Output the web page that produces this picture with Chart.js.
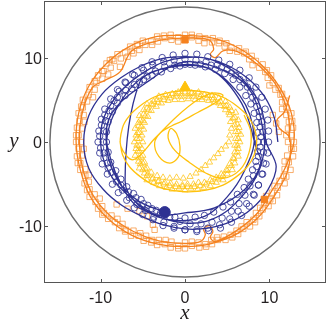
<!DOCTYPE html>
<html>
<head>
<meta charset="utf-8">
<script src="https://cdn.jsdelivr.net/npm/chart.js@4.4.0/dist/chart.umd.min.js"></script>
<style>
  html, body { margin: 0; padding: 0; background: #fff; }
  canvas { display: block; }
</style>
</head>
<body>
<canvas id="orbitChart" width="327" height="322"></canvas>
<script>
// axis range + ticks
const axisMin = -16.7;
const axisMax = 16.7;
const tickValues = [-10, 0, 10];
const boundaryRadius = 16;

// blue circles (passes round the ring)
const blueCirclesA = [[9.9,0],[9.9,1.3],[9.8,2.6],[9.5,3.9],[9.1,5.3],[8.4,6.5],[7.6,7.6],[6.5,8.5],[5.3,9.2],[4.0,9.7],[2.7,10.1],[1.4,10.4],[0,10.5],[-1.4,10.3],[-2.7,10.0],[-3.9,9.5],[-5.1,8.8],[-6.2,8.0],[-7.1,7.1],[-8.0,6.2],[-8.8,5.1],[-9.5,3.9],[-9.9,2.7],[-10.2,1.3],[-10.3,0],[-10.1,-1.3],[-9.8,-2.6],[-9.2,-3.8],[-8.6,-5.0],[-7.9,-6.0],[-6.9,-6.9],[-6.0,-7.8],[-5.0,-8.6],[-3.8,-9.2],[-2.6,-9.9],[-1.3,-10.2],[0,-10.4],[1.4,-10.4],[2.7,-10.2],[4.1,-9.8],[5.3,-9.1],[6.3,-8.2],[7.3,-7.3],[8.1,-6.2],[8.7,-5.1],[9.2,-3.8],[9.6,-2.6],[9.8,-1.3]];
const blueCirclesB = [[8.7,0],[8.6,1.1],[8.5,2.3],[8.2,3.4],[7.8,4.5],[7.2,5.5],[6.5,6.5],[5.7,7.4],[4.7,8.1],[3.6,8.6],[2.4,8.9],[1.2,9.1],[0,9.2],[-1.2,9.1],[-2.4,8.9],[-3.5,8.4],[-4.5,7.8],[-5.4,7.1],[-6.3,6.3],[-7.1,5.5],[-8.0,4.6],[-8.6,3.6],[-9.1,2.4],[-9.3,1.2],[-9.3,0],[-9.1,-1.2],[-8.8,-2.4],[-8.2,-3.4],[-7.6,-4.4],[-6.9,-5.3],[-6.1,-6.1],[-5.2,-6.8],[-4.4,-7.5],[-3.4,-8.1],[-2.3,-8.6],[-1.2,-8.9],[0,-9.0],[1.2,-8.9],[2.3,-8.7],[3.4,-8.3],[4.5,-7.7],[5.4,-7.1],[6.2,-6.2],[7.0,-5.4],[7.5,-4.4],[8.0,-3.3],[8.4,-2.3],[8.6,-1.1]];
const blueCirclesC = [[9.3,0],[9.2,1.2],[9.1,2.4],[8.8,3.6],[8.4,4.9],[7.8,6.0],[7.0,7.0],[6.0,7.9],[5.0,8.6],[3.8,9.1],[2.5,9.5],[1.3,9.7],[0,9.8],[-1.3,9.7],[-2.5,9.5],[-3.8,9.1],[-4.9,8.5],[-6.0,7.9],[-7.0,7.0],[-7.8,6.0],[-8.4,4.9],[-9.0,3.7],[-9.4,2.5],[-9.6,1.3],[-9.7,0],[-9.6,-1.3],[-9.2,-2.5],[-8.7,-3.6],[-8.1,-4.7],[-7.4,-5.7],[-6.6,-6.6],[-5.7,-7.4],[-4.7,-8.1],[-3.7,-8.9],[-2.5,-9.5],[-1.3,-10.0],[0,-10.4],[1.4,-10.6],[2.8,-10.5],[4.2,-10.2],[5.5,-9.5],[6.7,-8.7],[7.6,-7.6],[8.2,-6.3],[8.7,-5.1],[9.1,-3.8],[9.3,-2.5],[9.3,-1.2]];
const blueCirclesD = [[9.0,0.6],[8.9,1.8],[8.8,3.0],[8.5,4.2],[8.0,5.3],[7.4,6.5],[6.5,7.4],[5.5,8.2],[4.3,8.8],[3.1,9.1],[1.8,9.2],[0.6,9.2],[-0.6,9.0],[-1.7,8.7],[-2.8,8.3],[-3.9,7.9],[-4.9,7.4],[-6.0,6.8],[-7.0,6.1],[-8.0,5.3],[-8.8,4.3],[-9.5,3.2],[-9.9,2.0],[-10.1,0.7],[-10.0,-0.7],[-9.6,-1.9],[-9.1,-3.1],[-8.3,-4.1],[-7.6,-5.1],[-6.7,-5.9],[-5.8,-6.6],[-4.9,-7.3],[-3.9,-7.9],[-2.9,-8.4],[-1.8,-8.9],[-0.6,-9.4],[0.6,-9.7],[1.9,-9.7],[3.2,-9.5],[4.4,-9.0],[5.5,-8.2],[6.4,-7.3],[7.1,-6.3],[7.7,-5.2],[8.1,-4.0],[8.5,-2.9],[8.7,-1.7],[8.9,-0.6]];
const blueTrack = [[11.0,0],[10.6,2.8],[9.4,5.4],[7.5,7.5],[5.2,9.0],[2.6,9.9],[0,10.1],[-2.6,9.9],[-5.2,9.0],[-7.6,7.6],[-9.8,5.7],[-11.4,3.1],[-12.0,0],[-11.4,-3.1],[-9.7,-5.6],[-7.5,-7.5],[-5.1,-8.8],[-2.6,-9.8],[0,-10.3],[2.7,-10.2],[5.5,-9.4],[7.9,-7.9],[9.8,-5.7],[10.8,-2.9],
  [9.6,0],[9.4,2.5],[8.6,5.0],[7.1,7.1],[5.1,8.8],[2.6,9.9],[0,10.0],[-2.5,9.5],[-4.8,8.3],[-6.8,6.8],[-8.5,4.9],[-9.7,2.6],[-10.0,0],[-9.5,-2.5],[-8.2,-4.8],[-6.5,-6.5],[-4.6,-8.0],[-2.4,-9.1],[0,-9.6],[2.5,-9.4],[4.8,-8.3],[6.6,-6.6],[8.1,-4.7],[9.1,-2.4],
  [9.4,0.3],[7.9,5.8],[5.0,8.3],[0,9.5],[-4.2,7.3],[-8.6,3.5],[-9.2,-0.5],[-6.5,-6.8],[-3.5,-8.6],[0,-8.4],[3.5,-7.8],[7.1,-5.6],[9.0,-2.5],
  [8.5,-0.9],[6.7,4.6],[3.0,8.6],[-2.0,8.8],[-5.4,7.0],[-7.1,-4.6],[-5.5,-7.5],[-2.0,-9.2],[2.3,-8.8],[5.0,-6.5],[7.0,-3.5],[8.2,0.5],
  [6.5,5.5],[2.0,9.0],[-4.0,8.2],[-7.5,5.0],[-9.3,0],[-8.0,-4.5],[-5.5,-7.0],[-2.4,-8.3]];
const blueEnd = [[-2.4,-8.3]];

// orange squares
const orangeSquaresA = [[12.9,0],[12.8,1.7],[12.6,3.4],[11.9,4.9],[11.1,6.4],[10.2,7.9],[9.2,9.2],[7.9,10.2],[6.4,11.1],[4.9,11.7],[3.3,12.3],[1.7,12.5],[0,12.7],[-1.7,12.7],[-3.3,12.5],[-5.0,12.0],[-6.5,11.3],[-8.0,10.4],[-9.3,9.3],[-10.3,7.9],[-11.3,6.5],[-12.1,5.0],[-12.6,3.4],[-12.8,1.7],[-12.9,0],[-12.8,-1.7],[-12.4,-3.3],[-11.9,-4.9],[-11.3,-6.5],[-10.3,-7.9],[-9.1,-9.1],[-7.8,-10.2],[-6.4,-11.1],[-4.9,-11.7],[-3.3,-12.2],[-1.7,-12.5],[0,-12.6],[1.7,-12.5],[3.2,-12.1],[4.8,-11.6],[6.3,-10.9],[7.7,-10.0],[8.8,-8.8],[9.9,-7.6],[10.9,-6.3],[11.8,-4.9],[12.5,-3.3],[12.8,-1.7]];
const orangeSquaresB = [[12.2,0],[12.2,1.6],[12.0,3.2],[11.5,4.7],[10.7,6.2],[9.8,7.6],[8.8,8.8],[7.6,9.8],[6.2,10.7],[4.7,11.3],[3.2,11.8],[1.6,12.0],[0,12.1],[-1.6,12.1],[-3.2,11.9],[-4.7,11.5],[-6.3,10.8],[-7.6,9.9],[-8.8,8.8],[-9.8,7.5],[-10.7,6.2],[-11.6,4.8],[-12.0,3.2],[-12.2,1.6],[-12.3,0],[-12.2,-1.6],[-11.8,-3.2],[-11.4,-4.7],[-10.7,-6.2],[-9.8,-7.6],[-8.7,-8.7],[-7.4,-9.7],[-6.1,-10.5],[-4.6,-11.1],[-3.1,-11.6],[-1.6,-11.8],[0,-11.9],[1.6,-11.9],[3.1,-11.6],[4.6,-11.2],[6.1,-10.5],[7.3,-9.5],[8.4,-8.4],[9.4,-7.2],[10.3,-6.0],[11.2,-4.6],[11.8,-3.2],[12.1,-1.6]];
const orangeSquaresC = [[12.6,0.8],[12.3,2.4],[12.0,4.1],[11.3,5.6],[10.4,7.0],[9.5,8.3],[8.4,9.6],[7.0,10.5],[5.5,11.2],[4.0,11.7],[2.4,12.3],[0.8,12.4],[-0.8,12.4],[-2.4,12.3],[-4.0,11.9],[-5.6,11.4],[-7.1,10.6],[-8.4,9.6],[-9.6,8.4],[-10.5,7.0],[-11.4,5.6],[-12.1,4.1],[-12.5,2.5],[-12.6,0.8],[-12.6,-0.8],[-12.4,-2.5],[-11.8,-4.0],[-11.3,-5.6],[-10.6,-7.1],[-9.6,-8.4],[-8.3,-9.5],[-7.0,-10.4],[-5.5,-11.1],[-3.9,-11.6],[-2.4,-12.1],[-0.8,-12.3],[0.8,-12.3],[2.4,-12.1],[3.9,-11.6],[5.4,-11.0],[6.9,-10.3],[8.1,-9.2],[9.2,-8.0],[10.1,-6.8],[11.0,-5.4],[11.7,-4.0],[12.3,-2.4],[12.6,-0.8]];
const orangeSquaresD = [[12.0,0.8],[12.7,2.5],[11.5,3.9],[11.5,5.7],[10.0,6.7],[9.7,8.5],[8.0,9.1],[7.2,10.7],[5.3,10.8],[4.1,12.0],[2.3,11.7],[0.8,12.7],[-0.8,11.9],[-2.5,12.6],[-3.9,11.5],[-5.7,11.6],[-6.8,10.1],[-8.6,9.8],[-9.1,8.0],[-10.7,7.2],[-10.9,5.3],[-12.3,4.2],[-11.9,2.4],[-12.9,0.8],[-12.0,-0.8],[-12.7,-2.5],[-11.4,-3.9],[-11.6,-5.7],[-10.1,-6.7],[-9.8,-8.6],[-8.0,-9.1],[-7.1,-10.6],[-5.3,-10.8],[-4.0,-11.9],[-2.3,-11.6],[-0.8,-12.6],[0.8,-11.8],[2.5,-12.4],[3.8,-11.3],[5.6,-11.3],[6.7,-10.0],[8.3,-9.5],[8.9,-7.8],[10.4,-7.0],[10.6,-5.2],[12.0,-4.1],[11.8,-2.3],[12.9,-0.8]];
const orangeStray = [[-8.9,9.7],[-7.7,8.9],[-6.1,10.5],[-5.4,10.9],[-9.8,8.4],[-8.1,-7.4],[-6.8,-7.9],[-5.4,-8.2],[-4.5,-8.8],[-3.8,-9.8],[-3.6,-10.4],[10.8,2.2],[11.1,1.2],[9.6,-6.4],[10.4,3.2]];
const orangeTrack = [[12.4,0],[12.2,3.3],[11.0,6.4],[8.9,8.9],[6.2,10.7],[4.5,10.8],[3.6,10.0],[3.0,10.4],[3.4,11.0],[2.8,12.1],[0,12.3],[-3.2,12.0],[-6.3,10.8],[-7.7,8.3],[-9.5,7.3],[-11.0,6.4],[-12.2,3.3],[-12.5,0],[-12.1,-3.2],[-10.9,-6.3],[-8.8,-8.8],[-6.1,-10.6],[-3.1,-11.7],[0,-12.0],[1.8,-11.8],[2.4,-11.0],[2.2,-10.3],[2.9,-9.9],[3.3,-10.6],[3.0,-11.3],[3.6,-11.8],[6.1,-10.5],[8.5,-8.5],[10.2,-5.9],[11.8,-3.2],
  [12.9,0],[12.6,3.4],[11.2,6.5],[9.1,9.1],[6.4,11.1],[3.3,12.3],[0,12.6],[-3.3,12.5],[-6.6,11.3],[-9.3,9.3],[-11.4,6.6],[-12.6,3.4],[-12.9,0],[-12.4,-3.3],[-11.2,-6.5],[-9.1,-9.1],[-6.4,-11.0],[-3.2,-12.1],[0,-12.4],[3.2,-12.0],[6.3,-10.8],[8.8,-8.8],[10.7,-6.2],[12.2,-3.3],[12.4,0.5],[11.2,1.6],[10.9,2.6],[11.8,3.6],[12.4,5.5]];
const orangeEnds = [[0,12.1],[9.4,-6.8]];

// yellow triangles
const yellowTrianglesA = [[6.5,0],[6.6,0.9],[6.4,1.7],[6.3,2.6],[6.0,3.5],[5.3,4.1],[4.8,4.8],[4.0,5.2],[3.2,5.5],[2.3,5.6],[1.6,5.9],[0.8,5.8],[0,5.9],[-0.8,5.9],[-1.5,5.7],[-2.3,5.6],[-3.1,5.4],[-3.7,4.8],[-4.5,4.5],[-4.9,3.8],[-5.4,3.1],[-5.5,2.3],[-5.9,1.6],[-5.8,0.8],[-6.0,0],[-5.8,-0.8],[-5.9,-1.6],[-5.5,-2.3],[-5.4,-3.1],[-4.8,-3.7],[-4.5,-4.5],[-3.7,-4.8],[-3.0,-5.2],[-2.2,-5.4],[-1.5,-5.6],[-0.7,-5.5],[0,-5.7],[0.7,-5.5],[1.5,-5.6],[2.2,-5.4],[3.0,-5.2],[3.7,-4.8],[4.5,-4.5],[5.0,-3.8],[5.6,-3.3],[5.9,-2.5],[6.3,-1.7],[6.3,-0.8]];
const yellowTrianglesB = [[6.0,0.4],[6.0,1.2],[5.9,2.0],[5.7,2.8],[5.2,3.5],[4.7,4.2],[4.0,4.6],[3.3,5.0],[2.6,5.2],[1.8,5.3],[1.1,5.4],[0.4,5.4],[-0.4,5.4],[-1.1,5.4],[-1.8,5.2],[-2.5,5.0],[-3.2,4.7],[-3.8,4.4],[-4.3,3.8],[-4.7,3.1],[-5.0,2.5],[-5.2,1.8],[-5.4,1.1],[-5.4,0.4],[-5.4,-0.4],[-5.4,-1.1],[-5.2,-1.8],[-5.0,-2.5],[-4.7,-3.2],[-4.4,-3.8],[-3.8,-4.3],[-3.1,-4.6],[-2.4,-4.8],[-1.7,-4.9],[-1.0,-5.0],[-0.3,-5.1],[0.3,-5.0],[1.0,-5.0],[1.6,-4.8],[2.3,-4.8],[3.0,-4.5],[3.7,-4.2],[4.3,-3.8],[4.9,-3.3],[5.3,-2.6],[5.7,-1.9],[5.9,-1.2],[5.9,-0.4]];
const yellowTrianglesC = [[5.2,0.0],[5.3,0.8],[5.5,1.6],[5.4,2.4],[5.3,3.2],[4.8,3.8],[4.2,4.3],[3.5,4.7],[2.8,4.9],[2.0,5.0],[1.2,5.0],[0.4,5.1],[-0.4,5.0],[-1.2,5.0],[-2.0,4.9],[-2.8,4.6],[-3.4,4.2],[-4.0,3.7],[-4.4,3.0],[-4.8,2.3],[-4.9,1.5],[-5.1,0.8],[-5.0,0.0],[-5.1,-0.8],[-5.0,-1.6],[-4.8,-2.4],[-4.5,-3.1],[-4.0,-3.6],[-3.3,-4.0],[-2.6,-4.2],[-1.8,-4.3],[-1.0,-4.2],[-0.2,-4.3],[0.6,-4.1],[1.3,-3.7],[1.9,-3.3],[2.4,-2.8],[2.9,-2.4],[3.4,-1.9],[3.9,-1.4],[4.3,-0.9],[4.8,-0.5]];
const yellowTrianglesD = [[6.3,0.4],[6.3,1.2],[6.2,2.1],[5.9,2.9],[5.5,3.7],[4.9,4.3],[4.2,4.8],[3.4,5.2],[2.7,5.5],[1.9,5.6],[1.1,5.7],[0.4,5.7],[-0.4,5.7],[-1.1,5.7],[-1.9,5.5],[-2.6,5.3],[-3.3,5.0],[-4.0,4.5],[-4.5,4.0],[-4.9,3.3],[-5.3,2.6],[-5.5,1.9],[-5.6,1.1],[-5.7,0.4],[-5.7,-0.4],[-5.6,-1.1],[-5.5,-1.9],[-5.3,-2.6],[-5.0,-3.3],[-4.5,-4.0],[-3.9,-4.4],[-3.2,-4.7],[-2.5,-5.0],[-1.8,-5.2],[-1.1,-5.3],[-0.3,-5.3],[0.3,-5.3],[1.1,-5.3],[1.8,-5.2],[2.5,-5.0],[3.2,-4.7],[3.9,-4.4],[4.5,-4.0],[5.0,-3.4],[5.5,-2.8],[5.8,-2.0],[6.2,-1.2],[6.2,-0.4]];
const yellowTrack = [[-7.7,0.1],[-7.4,-1.5],[-6.6,-2.9],[-5.3,-4.1],[-3.7,-5.1],[-1.7,-5.7],[0.4,-5.9],[2.5,-5.7],[4.5,-5.1],[6.1,-4.1],[7.4,-2.9],[8.2,-1.5],[8.5,0.1],[8.2,1.7],[7.4,3.1],[6.1,4.3],[4.5,5.3],[2.5,5.9],[0.4,6.1],[-1.7,5.9],[-3.7,5.3],[-5.3,4.3],[-6.6,3.1],[-7.4,1.7],
  [-7.6,-0.5],[-6.1,-2.1],[-3.5,0.5],[-1.0,3.0],[1.5,5.0],[3.3,5.8],[4.5,5.5],[3.5,4.6],[1.5,3.5],[-0.5,2.4],[-1.6,1.9],[-2.9,1.1],[-3.6,-0.1],[-3.1,-1.7],[-1.8,-2.5],[-0.8,-1.8],[-0.6,-0.5],[-1.0,1.0],[-1.7,1.6],[-2.0,0.5],[-1.2,-1.0],[0.5,-2.4],[2.5,-3.7],[4.5,-4.3],[6.5,-3.3],[7.6,-1.2],[7.8,1.2],[7.0,3.2]];
const yellowEnd = [[0,6.5]];

// colours
const blue = '#2e3192';
const orange = '#f5821f';
const yellow = '#ffc20e';
const blueMark = 'rgba(46,49,146,0.85)';
const orangeMark = 'rgba(245,130,31,0.65)';
const yellowMark = 'rgba(255,194,14,0.75)';
const textColor = '#231f20';

function pts(arr) {
  return arr.map(p => ({ x: p[0], y: p[1] }));
}

function markers(arr, style, color, radius) {
  return {
    data: pts(arr),
    pointStyle: style,
    pointRadius: radius,
    pointBorderWidth: 1,
    pointBorderColor: color,
    pointBackgroundColor: 'rgba(0,0,0,0)',
    showLine: false
  };
}

function track(arr, color) {
  return {
    data: pts(arr),
    showLine: true,
    borderColor: color,
    borderWidth: 1.3,
    pointRadius: 0,
    tension: 0.35,
    fill: false
  };
}

function filled(arr, style, color, radius) {
  return {
    data: pts(arr),
    pointStyle: style,
    pointRadius: radius,
    pointBorderWidth: 1,
    pointBorderColor: color,
    pointBackgroundColor: color,
    showLine: false
  };
}

// first dataset ends up on top
const datasets = [
  filled(blueEnd, 'circle', blue, 5.5),
  filled(orangeEnds, 'rect', orange, 4.5),
  filled(yellowEnd, 'triangle', yellow, 6),
  track(yellowTrack, yellow),
  markers(yellowTrianglesA, 'triangle', yellowMark, 3.6),
  markers(yellowTrianglesD, 'triangle', yellowMark, 3.6),
  markers(yellowTrianglesB, 'triangle', yellowMark, 3.6),
  markers(yellowTrianglesC, 'triangle', yellowMark, 3.6),
  track(blueTrack, blue),
  markers(blueCirclesA, 'circle', blueMark, 3.2),
  markers(blueCirclesB, 'circle', blueMark, 3.2),
  markers(blueCirclesC, 'circle', blueMark, 3.2),
  markers(blueCirclesD, 'circle', blueMark, 3.2),
  track(orangeTrack, orange),
  markers(orangeSquaresA, 'rect', orangeMark, 3.8),
  markers(orangeSquaresB, 'rect', orangeMark, 3.8),
  markers(orangeSquaresC, 'rect', orangeMark, 3.8),
  markers(orangeSquaresD, 'rect', orangeMark, 3.8),
  markers(orangeStray, 'rect', orangeMark, 3.8)
];

// grey boundary circle, drawn under the data
const boundaryPlugin = {
  id: 'boundary',
  beforeDatasetsDraw(chart) {
    const xs = chart.scales.x, ys = chart.scales.y;
    const cx = xs.getPixelForValue(0);
    const cy = ys.getPixelForValue(0);
    const r = xs.getPixelForValue(boundaryRadius) - cx;
    const ctx = chart.ctx;
    ctx.save();
    ctx.strokeStyle = '#6e6e6e';
    ctx.lineWidth = 1.5;
    ctx.beginPath();
    ctx.arc(cx, cy, r, 0, Math.PI * 2);
    ctx.stroke();
    ctx.restore();
  }
};

// box, inner ticks, tick labels and axis letters
const framePlugin = {
  id: 'frame',
  afterDraw(chart) {
    const a = chart.chartArea;
    const xs = chart.scales.x, ys = chart.scales.y;
    const ctx = chart.ctx;
    ctx.save();
    ctx.strokeStyle = '#555';
    ctx.lineWidth = 1;
    ctx.strokeRect(a.left + 0.5, a.top + 0.5, a.right - a.left - 1, a.bottom - a.top - 1);
    ctx.beginPath();
    for (const v of tickValues) {
      const px = Math.round(xs.getPixelForValue(v)) + 0.5;
      ctx.moveTo(px, a.bottom); ctx.lineTo(px, a.bottom - 4);
      ctx.moveTo(px, a.top); ctx.lineTo(px, a.top + 4);
      const py = Math.round(ys.getPixelForValue(v)) + 0.5;
      ctx.moveTo(a.left, py); ctx.lineTo(a.left + 4, py);
      ctx.moveTo(a.right, py); ctx.lineTo(a.right - 4, py);
    }
    ctx.stroke();

    ctx.fillStyle = textColor;
    ctx.font = '16px "Liberation Sans", Arial, sans-serif';
    ctx.textBaseline = 'alphabetic';
    ctx.textAlign = 'center';
    for (const v of tickValues) {
      ctx.fillText(String(v), xs.getPixelForValue(v), a.bottom + 20);
    }
    ctx.textAlign = 'right';
    for (const v of tickValues) {
      ctx.fillText(String(v), a.left - 2, ys.getPixelForValue(v) + 6);
    }

    ctx.font = 'italic 21px "Liberation Serif", "Times New Roman", serif';
    ctx.textAlign = 'center';
    ctx.fillText('x', xs.getPixelForValue(0), 319);
    ctx.fillText('y', 14, ys.getPixelForValue(0) + 5);
    ctx.restore();
  }
};

new Chart(document.getElementById('orbitChart'), {
  type: 'scatter',
  data: { datasets: datasets },
  options: {
    responsive: false,
    animation: false,
    devicePixelRatio: 1,
    layout: { autoPadding: false, padding: { top: 1, right: 1, left: 0, bottom: 0 } },
    plugins: { legend: { display: false }, tooltip: { enabled: false } },
    scales: {
      x: {
        type: 'linear',
        min: axisMin,
        max: axisMax,
        afterFit: s => { s.height = 39; },
        grid: { display: false },
        border: { display: false },
        ticks: { display: false }
      },
      y: {
        type: 'linear',
        min: axisMin,
        max: axisMax,
        afterFit: s => { s.width = 44; },
        grid: { display: false },
        border: { display: false },
        ticks: { display: false }
      }
    }
  },
  plugins: [boundaryPlugin, framePlugin]
});
</script>
</body>
</html>
